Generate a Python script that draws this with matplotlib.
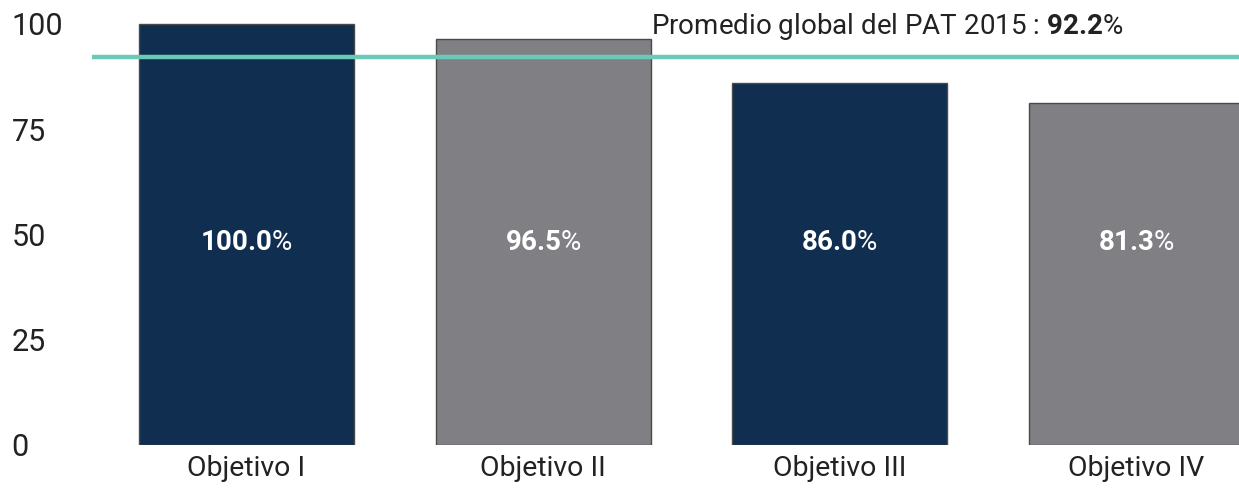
import matplotlib
matplotlib.use('Agg')
import matplotlib.pyplot as plt

plt.rcParams['font.family'] = ['Roboto', 'DejaVu Sans']
plt.rcParams['mathtext.fontset'] = 'custom'
plt.rcParams['mathtext.rm'] = 'Roboto'
plt.rcParams['mathtext.bf'] = 'Roboto:bold'

# data
objetivos = ['Objetivo I', 'Objetivo II', 'Objetivo III', 'Objetivo IV']
avance = [100.0, 96.5, 86.0, 81.3]
promedio = 92.2
yticks = [0, 25, 50, 75, 100]

navy = '#0F2E50'
gray = '#808084'
colors = [navy, gray, navy, gray]

fig = plt.figure(figsize=(12.39, 4.95), dpi=100)
ax = fig.add_axes([92 / 1239, 50 / 495, 1 - 92 / 1239, 445 / 495])

x = list(range(len(objetivos)))
ax.bar(x, avance, width=0.725, color=colors, edgecolor='#4a4a4a', linewidth=1, zorder=2)
ax.axhline(promedio, color='#6DC9B7', linewidth=3.2, zorder=3)

# bold number, regular percent sign
for xi, v in zip(x, avance):
    ax.text(xi, 48, r'$\mathbf{%.1f}$%%' % v, color='white', fontsize=20,
            ha='center', va='center', zorder=4)

ax.set_xlim(-0.521, 3.347)
ax.set_ylim(0, 105.7)
ax.set_xticks(x)
ax.set_xticklabels(objetivos, fontsize=20.5, color='#222222')
ax.set_yticks(yticks)
ax.set_yticklabels([str(t) for t in yticks], fontsize=22, color='#222222')
for lab in ax.get_yticklabels():
    lab.set_horizontalalignment('left')
ax.tick_params(axis='y', length=0, pad=58)
ax.tick_params(axis='x', length=0, pad=7)
for s in ax.spines.values():
    s.set_visible(False)

fig.text(651 / 1239, 1 - 26 / 495,
         r'Promedio global del PAT 2015 : $\mathbf{%.1f}$%%' % promedio,
         fontsize=20, color='#222222', ha='left', va='center')

fig.savefig('out.png', dpi=100)
